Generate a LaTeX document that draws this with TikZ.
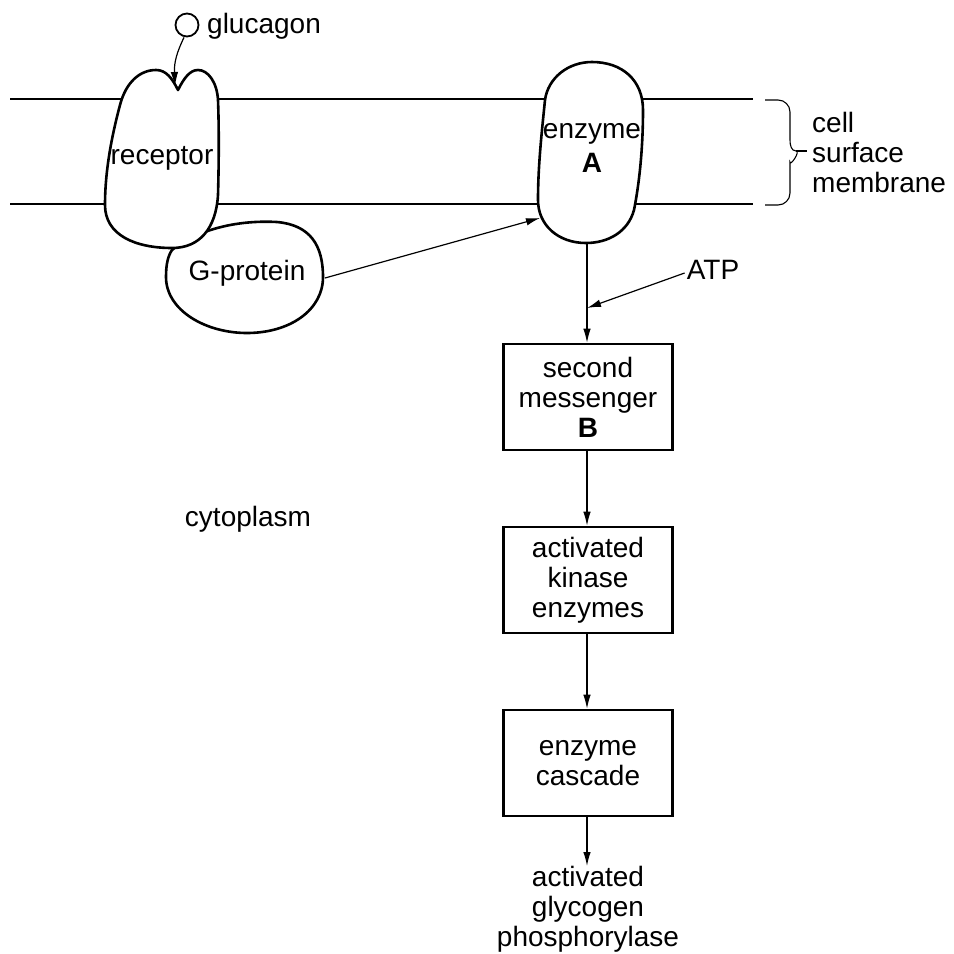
\documentclass[tikz,border=0pt]{standalone}
\usepackage{fontspec}
\setmainfont{Liberation Sans}
\usetikzlibrary{arrows.meta}
\begin{document}
\begin{tikzpicture}[x=1pt,y=-1pt,
  every node/.style={font=\fontsize{28}{30}\selectfont, inner sep=0pt, align=center},
  thick line/.style={line width=2.6pt, line join=round},
  flowbox/.style={draw, line width=2.6pt, minimum width=169pt, minimum height=106pt},
  conn/.style={line width=1.2pt, -{Latex[length=14pt,width=7.5pt]}},
  blob/.style={thick line, fill=white}]
\useasboundingbox (0,0) rectangle (954,954);

% membrane
\draw[thick line] (10,99) -- (753,99);
\draw[thick line] (10,204) -- (753,204);

% G-protein
\draw[blob] (172,250) .. controls (200,228) and (240,220) .. (277,222)
  .. controls (310,225) and (323,245) .. (323,277)
  .. controls (323,310) and (290,333) .. (247,333)
  .. controls (205,333) and (166,310) .. (166,277)
  .. controls (166,264) and (168,256) .. (172,250) -- cycle;
\node (gp) at (247,273) {G-protein};
\coordinate (gpout) at (325,278);

% receptor
\draw[blob] (178,90) .. controls (172,78) and (166,70) .. (156,70)
  .. controls (140,70) and (126,82) .. (120,105)
  .. controls (112,135) and (105,170) .. (105,205)
  .. controls (105,235) and (135,248) .. (172,248)
  .. controls (200,248) and (216,228) .. (218,195)
  .. controls (219,160) and (219,125) .. (218,100)
  .. controls (217,82) and (208,70) .. (198,70)
  .. controls (190,70) and (184,78) .. (178,90) -- cycle;
\node (rec) at (162,158) {receptor};
\coordinate (notch) at (175,86);

% glucagon
\node[draw, circle, line width=1.8pt, minimum size=23pt] (glu) at (187,25) {};
\node[anchor=west] (glutxt) at (207,26) {glucagon};
\draw[conn] (glu.south) ++(-3,0) .. controls (177,52) and (174,62) .. (notch);

% enzyme A
\draw[blob] (592,62) .. controls (622,62) and (643,80) .. (643,110)
  .. controls (643,150) and (639,185) .. (634,210)
  .. controls (628,232) and (608,243) .. (586,243)
  .. controls (558,243) and (538,225) .. (538,200)
  .. controls (538,165) and (542,130) .. (545,100)
  .. controls (548,78) and (568,62) .. (592,62) -- cycle;
\node (enz) at (592,148) {enzyme\\[4pt]\textbf{A}};
\coordinate (enzbot) at (587,243);
\coordinate (enzin) at (540,218);

\draw[conn] (gpout) -- (enzin);

% brace
\draw[line width=1.1pt] (765,100) -- (778,100) to[out=0,in=90] (790,112) -- (790,140)
  to[out=-90,in=180] (796,151) to[out=0,in=-90] (790,162) -- (790,193)
  to[out=-90,in=0] (778,205) -- (765,205);
\draw[line width=1.1pt] (796,151) -- (807,151);
\node[anchor=west, align=left] (csm) at (812,152) {cell\\surface\\membrane};

% flow
\node[flowbox] (b1) at (588,397) {second\\messenger\\\textbf{B}};
\node[flowbox] (b2) at (588,580) {activated\\kinase\\enzymes};
\node[flowbox] (b3) at (588,763) {enzyme\\cascade};
\node[anchor=north] (gly) at (588,866) {activated\\glycogen\\phosphorylase};

\draw[conn] (enzbot) -- (enzbot |- b1.north);
\node (atp) at (713,270) {ATP};
\coordinate (atpin) at (587,308);
\draw[conn] (atp.west) ++(-2,3) -- (atpin);
\draw[conn] (b1.south -| enzbot) -- (b2.north -| enzbot);
\draw[conn] (b2.south -| enzbot) -- (b3.north -| enzbot);
\draw[conn] (b3.south -| enzbot) -- (gly.north -| enzbot);

\node (cyto) at (248,519) {cytoplasm};
\end{tikzpicture}
\end{document}
